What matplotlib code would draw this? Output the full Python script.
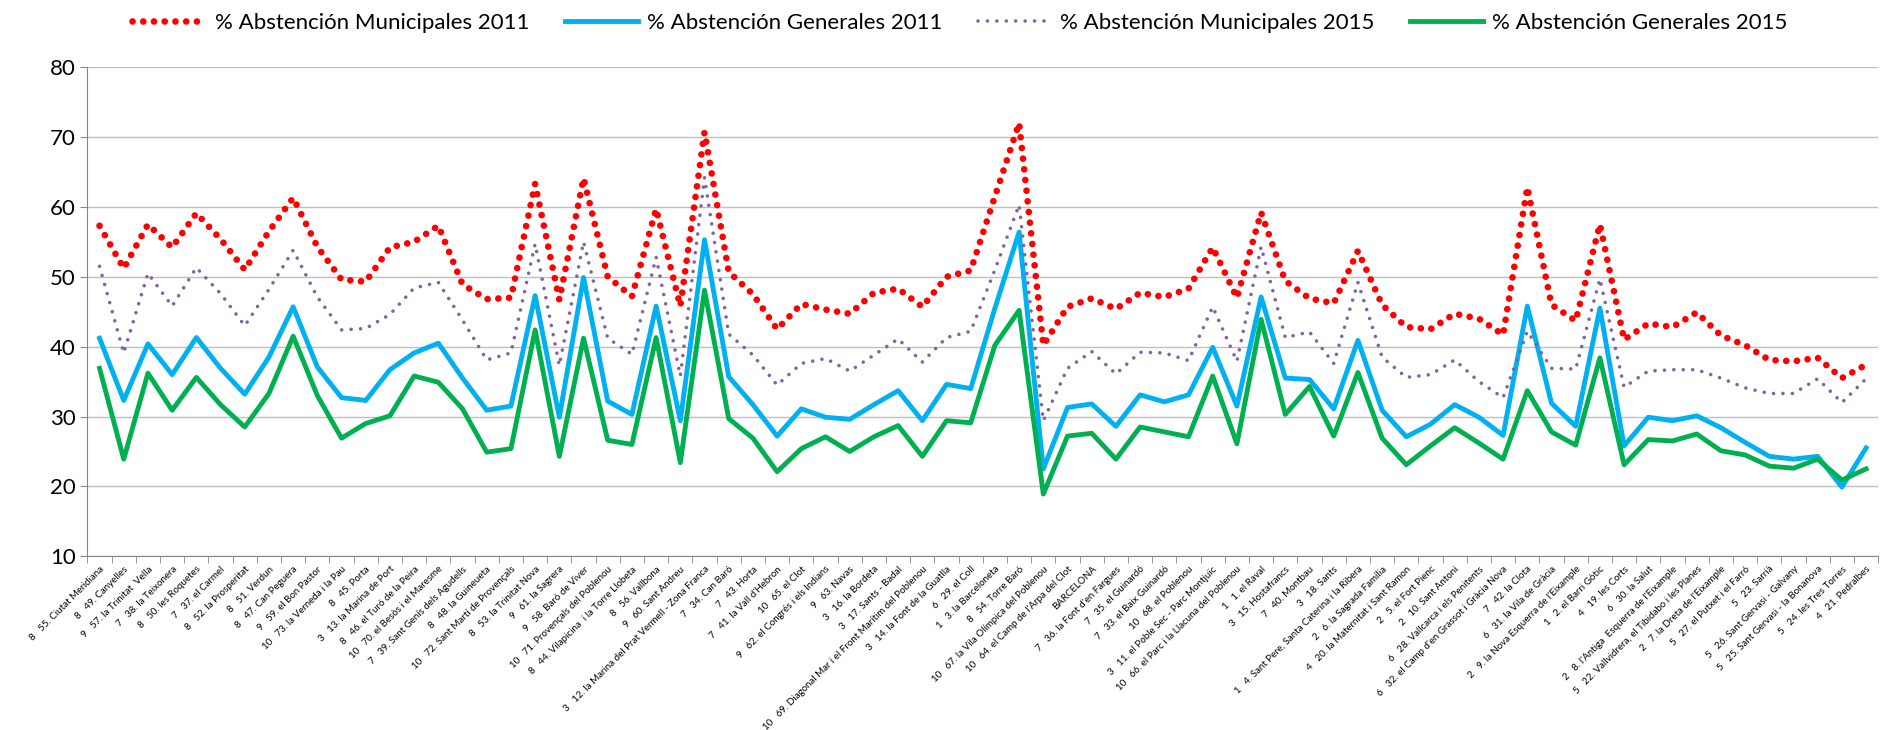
import matplotlib
matplotlib.use("Agg")
import matplotlib.pyplot as plt
import numpy as np

plt.rcParams['font.family'] = ['Lato', 'DejaVu Sans']

# district number + neighbourhood (BARCELONA = whole city)
districts = ['8', '8', '9', '7', '8', '7', '8', '8', '8', '9',
             '10', '8', '3', '8', '10', '7', '8', '10', '8', '9',
             '9', '10', '8', '8', '9', '3', '7', '7', '7', '10',
             '9', '9', '3', '3', '10', '3', '6', '1', '8', '10',
             '10', '', '7', '7', '7', '10', '3', '10', '1', '3',
             '7', '3', '1', '2', '4', '2', '2', '6', '6', '7',
             '6', '2', '1', '4', '6', '2', '5', '2', '5', '5',
             '5', '5', '5', '4']
barris = ['55. Ciutat Meridiana', '49. Canyelles', '57. la Trinitat  Vella', '38. la Teixonera',
          '50. les Roquetes', '37. el Carmel', '52. la Prosperitat', '51. Verdun',
          '47. Can Peguera', '59. el Bon Pastor', '73. la Verneda i la Pau', '45. Porta',
          '13. la Marina de Port', '46. el Turó de la Peira', '70. el Besòs i el Maresme',
          '39. Sant Genís dels Agudells', '48. la Guineueta', '72. Sant Martí de Provençals',
          '53. la Trinitat Nova', '61. la Sagrera', '58. Baró de Viver',
          '71. Provençals del Poblenou', '44. Vilapicina  i la Torre Llobeta', '56. Vallbona',
          '60. Sant Andreu', '12. la Marina del Prat Vermell - Zona Franca', '34. Can Baró',
          '43. Horta', "41. la Vall d'Hebron", '65. el Clot', '62. el Congrés i els Indians',
          '63. Navas', '16. la Bordeta', '17. Sants - Badal',
          '69. Diagonal Mar i el Front Marítim del Poblenou', '14. la Font de la Guatlla',
          '29. el Coll', '3. la Barceloneta', '54. Torre Baró',
          '67. la Vila Olímpica del Poblenou', "64. el Camp de l'Arpa del Clot", 'BARCELONA',
          "36. la Font d'en Fargues", '35. el Guinardó', '33. el Baix Guinardó',
          '68. el Poblenou', '11. el Poble Sec - Parc Montjuïc',
          '66. el Parc i la Llacuna del Poblenou', '1. el Raval', '15. Hostafrancs',
          '40. Montbau', '18. Sants', '4. Sant Pere, Santa Caterina i la Ribera',
          '6. la Sagrada Família', '20. la Maternitat i Sant Ramon', '5. el Fort Pienc',
          '10. Sant Antoni', '28. Vallcarca i els Penitents',
          "32. el Camp d'en Grassot i Gràcia Nova", '42. la Clota', '31. la Vila de Gràcia',
          "9. la Nova Esquerra de l'Eixample", '2. el Barri Gòtic', '19. les Corts',
          '30. la Salut', "8. l'Antiga  Esquerra de l'Eixample",
          '22. Vallvidrera, el Tibidabo i les Planes', "7. la Dreta de l'Eixample",
          '27. el Putxet i el Farró', '23. Sarrià', '26. Sant Gervasi - Galvany',
          '25. Sant Gervasi - la Bonanova', '24. les Tres Torres', '21. Pedralbes']

muni_2011 = [57.3, 51.2, 57.5, 54.2, 59.1, 55.4, 51.0, 56.5, 61.3, 54.3,
             49.6, 49.3, 54.2, 55.0, 57.3, 48.9, 46.8, 47.0, 63.3, 46.7,
             64.1, 50.0, 47.2, 59.7, 45.8, 70.7, 50.7, 47.5, 42.5, 46.1,
             45.3, 44.7, 47.7, 48.3, 45.7, 50.0, 50.9, 61.5, 72.0, 40.2,
             45.7, 46.9, 45.4, 47.7, 47.1, 48.3, 54.2, 47.0, 59.2, 49.4,
             46.9, 46.2, 53.7, 46.0, 42.8, 42.5, 44.7, 44.0, 41.7, 62.8,
             46.0, 43.7, 57.5, 41.0, 43.3, 42.8, 44.9, 41.6, 40.2, 38.1,
             37.9, 38.4, 35.5, 37.4]
gen_2011 = [41.2, 32.3, 40.4, 36.0, 41.3, 36.9, 33.2, 38.5, 45.7, 37.1,
            32.7, 32.3, 36.7, 39.1, 40.5, 35.5, 30.9, 31.5, 47.3, 29.9,
            49.9, 32.2, 30.3, 45.8, 29.4, 55.3, 35.7, 31.7, 27.2, 31.1,
            29.9, 29.6, 31.7, 33.7, 29.4, 34.6, 34.0, 45.5, 56.4, 22.5,
            31.3, 31.8, 28.6, 33.1, 32.1, 33.1, 39.9, 31.5, 47.1, 35.5,
            35.3, 31.1, 40.9, 30.9, 27.1, 28.9, 31.7, 29.9, 27.3, 45.8,
            31.9, 28.6, 45.5, 25.8, 29.9, 29.4, 30.1, 28.4, 26.3, 24.3,
            23.9, 24.3, 19.9, 25.5]
muni_2015 = [51.5, 39.1, 50.5, 45.8, 51.3, 47.6, 43.0, 48.2, 53.8, 47.1,
             42.4, 42.6, 44.6, 48.4, 49.2, 43.8, 38.1, 39.1, 54.7, 37.3,
             55.0, 41.2, 38.9, 52.8, 35.8, 64.2, 41.8, 38.8, 34.5, 37.6,
             38.3, 36.5, 38.8, 41.1, 37.8, 41.3, 42.2, 51.0, 60.3, 29.4,
             36.9, 39.3, 36.1, 39.2, 39.1, 38.0, 45.7, 37.9, 54.3, 41.3,
             42.1, 37.6, 49.2, 38.5, 35.6, 36.0, 38.1, 35.0, 32.7, 42.2,
             36.9, 36.8, 49.7, 34.2, 36.5, 36.7, 36.7, 35.5, 34.1, 33.3,
             33.3, 35.4, 32.0, 35.4]
gen_2015 = [36.9, 23.9, 36.2, 30.9, 35.6, 31.7, 28.5, 33.3, 41.5, 33.0,
            26.9, 29.0, 30.1, 35.8, 34.9, 31.1, 24.9, 25.4, 42.4, 24.3,
            41.2, 26.6, 26.0, 41.3, 23.4, 48.1, 29.7, 26.9, 22.1, 25.4,
            27.1, 25.0, 27.1, 28.7, 24.3, 29.4, 29.1, 40.2, 45.2, 18.9,
            27.2, 27.6, 23.9, 28.5, 27.8, 27.1, 35.8, 26.1, 43.9, 30.3,
            34.3, 27.2, 36.3, 26.9, 23.1, 25.8, 28.4, 26.2, 23.9, 33.7,
            27.8, 25.9, 38.4, 23.1, 26.7, 26.5, 27.5, 25.1, 24.5, 22.9,
            22.6, 23.9, 20.9, 22.5]

labels = [f"{d}   {b}" if d else b for d, b in zip(districts, barris)]
x = np.arange(len(labels))

fig = plt.figure(figsize=(19.01, 7.30), dpi=100)
ax = fig.add_axes([0.046, 0.238, 0.942, 0.670])

ax.plot(x, muni_2011, color='#FF0000', lw=4.8, linestyle=(0, (0.01, 1.6)),
        dash_capstyle='round', label='% Abstención Municipales 2011', zorder=3)
ax.plot(x, gen_2011, color='#00B0F0', lw=3.5, label='% Abstención Generales 2011', zorder=2)
ax.plot(x, muni_2015, color='#8064A2', lw=2.6, linestyle=(0, (0.01, 2.6)),
        dash_capstyle='round', label='% Abstención Municipales 2015', zorder=3)
ax.plot(x, gen_2015, color='#00B050', lw=3.5, label='% Abstención Generales 2015', zorder=2)

ax.set_xlim(-0.5, len(labels) - 0.5)
ax.set_ylim(10, 80)
ax.set_yticks(range(10, 81, 10))
ax.yaxis.grid(True, color='#BFBFBF', lw=1.0)
ax.set_axisbelow(True)

ax.set_xticks(x)
ax.set_xticklabels(labels, rotation=45, ha='right', rotation_mode='anchor', fontsize=7)
ax.tick_params(axis='x', length=0, pad=6)
ax.set_xticks(np.arange(-0.5, len(labels), 1), minor=True)
ax.tick_params(axis='x', which='minor', length=5, color='#868686')
ax.tick_params(axis='y', labelsize=16, length=5, color='#868686')

for s in ['top', 'right']:
    ax.spines[s].set_visible(False)
for s in ['left', 'bottom']:
    ax.spines[s].set_color('#868686')

fig.legend(loc='upper center', bbox_to_anchor=(0.505, 1.01), ncol=4, frameon=False,
           fontsize=16, handlelength=3.3, handletextpad=0.4, columnspacing=1.6)

fig.savefig('out.png', dpi=100)
